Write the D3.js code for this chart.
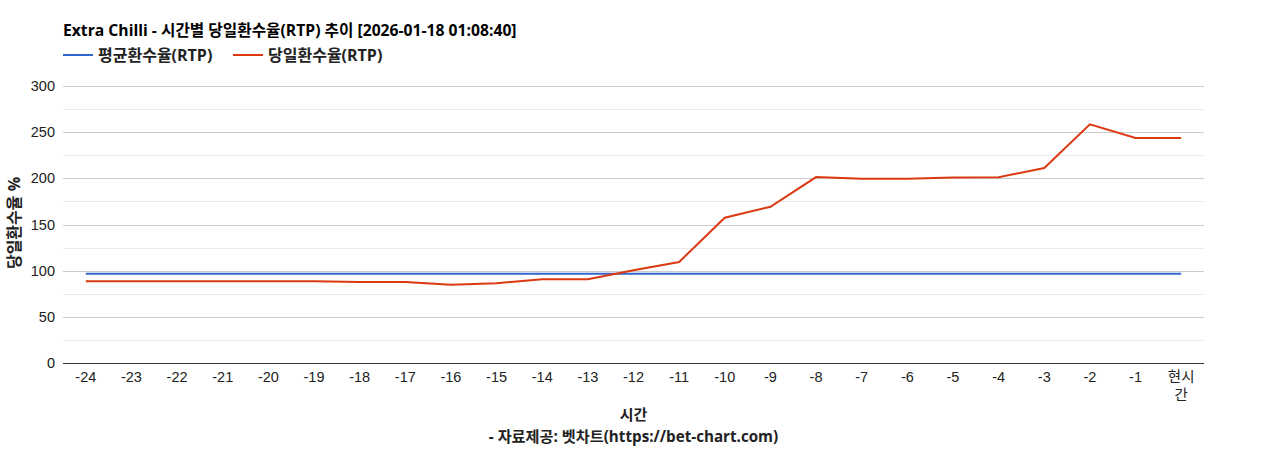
<!DOCTYPE html>
<html>
<head>
<meta charset="utf-8">
<script src="https://cdn.jsdelivr.net/npm/d3@7"></script>
<style>
  body { margin: 0; background: #fff; }
  text { font-family: "Liberation Sans", Arial, "Noto Sans CJK KR", sans-serif; }
  .bold { font-family: "Open Sans", "Noto Sans CJK KR", sans-serif; font-weight: bold; }
</style>
</head>
<body>
<div id="chart"></div>
<script>
// hours before now, last one is "now"
var hours = ["-24", "-23", "-22", "-21", "-20", "-19", "-18", "-17", "-16", "-15", "-14", "-13",
  "-12", "-11", "-10", "-9", "-8", "-7", "-6", "-5", "-4", "-3", "-2", "-1", "현시간"];

var avgRtp = [96.7, 96.7, 96.7, 96.7, 96.7, 96.7, 96.7, 96.7, 96.7, 96.7, 96.7, 96.7,
  96.7, 96.7, 96.7, 96.7, 96.7, 96.7, 96.7, 96.7, 96.7, 96.7, 96.7, 96.7, 96.7];

var dayRtp = [88.6, 88.6, 88.6, 88.6, 88.6, 88.5, 87.7, 87.8, 84.8, 86.5, 90.6, 90.7,
  100.5, 109.4, 157.4, 169.2, 201.4, 199.6, 199.6, 201, 201.3, 211.2, 258.5, 243.8, 243.7];

var yTicks = [0, 50, 100, 150, 200, 250, 300];

var svgWidth = 1268;
var svgHeight = 450;
var margin = { top: 86, right: 64, bottom: 87, left: 63 };
var width = svgWidth - margin.left - margin.right;
var height = svgHeight - margin.top - margin.bottom;

var svg = d3.select("#chart")
  .append("svg")
  .attr("width", svgWidth)
  .attr("height", svgHeight);

var chartGroup = svg.append("g")
  .attr("transform", `translate(${margin.left}, ${margin.top})`);

var xScale = d3.scaleBand()
  .domain(hours)
  .range([0, width]);

var yScale = d3.scaleLinear()
  .domain([0, 300])
  .range([height, 0]);

// minor gridlines every 25
chartGroup.append("g")
  .selectAll("line")
  .data(d3.range(25, 300, 50))
  .enter()
  .append("line")
  .attr("x1", 0)
  .attr("x2", width)
  .attr("y1", d => Math.round(yScale(d)) + 0.5)
  .attr("y2", d => Math.round(yScale(d)) + 0.5)
  .attr("stroke", "#ebebeb");

// major gridlines
chartGroup.append("g")
  .selectAll("line")
  .data(yTicks.slice(1))
  .enter()
  .append("line")
  .attr("x1", 0)
  .attr("x2", width)
  .attr("y1", d => Math.round(yScale(d)) + 0.5)
  .attr("y2", d => Math.round(yScale(d)) + 0.5)
  .attr("stroke", "#cccccc");

// y axis labels
var leftAxis = d3.axisLeft(yScale).tickValues(yTicks).tickSize(0).tickPadding(8);
var yAxis = chartGroup.append("g").call(leftAxis);
yAxis.select(".domain").remove();
yAxis.selectAll("text")
  .attr("font-size", "14.5px")
  .attr("fill", "#222")
  .style("font-family", "'Liberation Sans', Arial, sans-serif");

// x axis labels
var bottomAxis = d3.axisBottom(xScale).tickSize(0).tickPadding(9);
var xAxis = chartGroup.append("g")
  .attr("transform", `translate(0, ${height})`)
  .call(bottomAxis);
xAxis.select(".domain").remove();
xAxis.selectAll("text")
  .attr("font-size", "14.5px")
  .attr("fill", "#222")
  .style("font-family", "'Liberation Sans', Arial, 'Noto Sans CJK KR', sans-serif")
  .each(function(d) {
    // "현시간" wraps over two lines
    if (d.length > 2 && d[0] !== "-") {
      var t = d3.select(this).text(null);
      t.append("tspan").attr("x", 0).text(d.slice(0, 2));
      t.append("tspan").attr("x", 0).attr("dy", "1.25em").text(d.slice(2));
    }
  });

// baseline
chartGroup.append("line")
  .attr("x1", 0)
  .attr("x2", width)
  .attr("y1", height + 0.5)
  .attr("y2", height + 0.5)
  .attr("stroke", "#333");

var line = d3.line()
  .x((d, i) => xScale(hours[i]) + xScale.bandwidth() / 2)
  .y(d => yScale(d));

chartGroup.append("path")
  .datum(avgRtp)
  .attr("d", line)
  .attr("fill", "none")
  .attr("stroke", "#3366cc")
  .attr("stroke-width", 2);

chartGroup.append("path")
  .datum(dayRtp)
  .attr("d", line)
  .attr("fill", "none")
  .attr("stroke", "#dc3912")
  .attr("stroke-width", 2);

// title
svg.append("text")
  .classed("bold", true)
  .attr("x", 63)
  .attr("y", 36)
  .attr("font-size", "15.7px")
  .attr("fill", "#000")
  .text("Extra Chilli - 시간별 당일환수율(RTP) 추이 [2026-01-18 01:08:40]");

// legend
var legendItems = [
  { name: "평균환수율(RTP)", color: "#3366cc", x: 63 },
  { name: "당일환수율(RTP)", color: "#dc3912", x: 233 }
];
var legend = svg.append("g");
legendItems.forEach(function(item) {
  legend.append("line")
    .attr("x1", item.x)
    .attr("x2", item.x + 30)
    .attr("y1", 55)
    .attr("y2", 55)
    .attr("stroke", item.color)
    .attr("stroke-width", 2);
  legend.append("text")
    .classed("bold", true)
    .attr("x", item.x + 35)
    .attr("y", 61)
    .attr("font-size", "16px")
    .attr("fill", "#222")
    .text(item.name);
});

// y axis title
svg.append("text")
  .classed("bold", true)
  .attr("transform", "rotate(-90)")
  .attr("x", -223)
  .attr("y", 20)
  .attr("text-anchor", "middle")
  .attr("font-size", "16px")
  .attr("fill", "#222")
  .text("당일환수율 %");

// x axis title and source
svg.append("text")
  .classed("bold", true)
  .attr("x", margin.left + width / 2)
  .attr("y", 420)
  .attr("text-anchor", "middle")
  .attr("font-size", "15px")
  .attr("fill", "#222")
  .text("시간");

svg.append("text")
  .classed("bold", true)
  .attr("x", margin.left + width / 2)
  .attr("y", 442)
  .attr("text-anchor", "middle")
  .attr("font-size", "15.2px")
  .attr("fill", "#222")
  .text("- 자료제공: 벳차트(https://bet-chart.com)");
</script>
</body>
</html>
